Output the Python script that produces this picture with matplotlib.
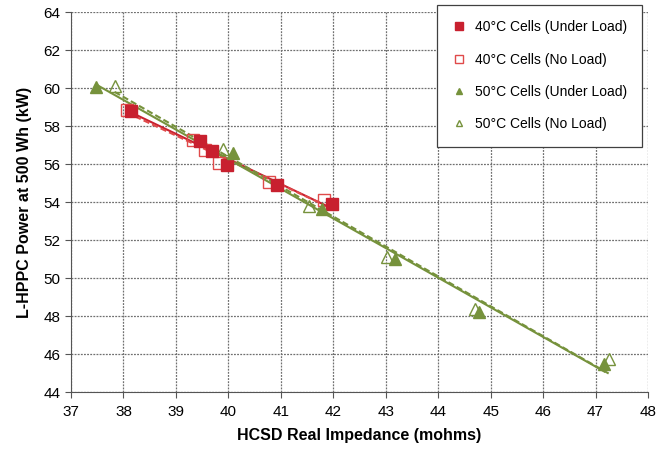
import numpy as np
import matplotlib
matplotlib.use("Agg")
import matplotlib.pyplot as plt

plt.rcParams['font.family'] = ['Liberation Sans', 'DejaVu Sans']

# 40°C under load
r_ul_x = [38.14, 39.46, 39.68, 39.97, 40.92, 41.97]
r_ul_y = [58.80, 57.20, 56.70, 55.95, 54.88, 53.88]
# 40°C no load
r_nl_x = [38.06, 39.33, 39.55, 39.83, 40.78, 41.82]
r_nl_y = [58.85, 57.25, 56.74, 56.07, 55.07, 54.08]
# 50°C under load
g_ul_x = [37.48, 40.09, 41.78, 43.18, 44.78, 47.17]
g_ul_y = [60.04, 56.56, 53.63, 50.98, 48.23, 45.50]
# 50°C no load
g_nl_x = [37.83, 39.90, 41.54, 43.03, 44.70, 47.25]
g_nl_y = [60.10, 56.80, 53.78, 51.10, 48.37, 45.72]

labels = ["40°C Cells (Under Load)", "40°C Cells (No Load)",
          "50°C Cells (Under Load)", "50°C Cells (No Load)"]

red = '#C8202F'
red_l = '#E04A4A'
green = '#76923C'

fig = plt.figure(figsize=(6.7, 4.5), dpi=100)
ax = fig.add_axes([71/670, 1-392/450, (648-71)/670, (392-12)/450])

def trend(x, y, color, ls):
    x = np.asarray(x); y = np.asarray(y)
    p = np.polyfit(x, y, 1)
    xx = np.array([x.min(), x.max()])
    ax.plot(xx, np.polyval(p, xx), color=color, ls=ls, lw=1.5, zorder=2)

trend(r_ul_x, r_ul_y, red, '-')
trend(r_nl_x, r_nl_y, red_l, (0, (3, 1.5)))
trend(g_ul_x, g_ul_y, green, '-')
trend(g_nl_x, g_nl_y, green, (0, (3, 1.5)))

ax.plot(r_nl_x, r_nl_y, ls='none', marker='s', ms=8.5, mfc='none', mec=red_l, mew=1.0, label=labels[1], zorder=3)
ax.plot(r_ul_x, r_ul_y, ls='none', marker='s', ms=8.5, mfc=red, mec=red, label=labels[0], zorder=4)
ax.plot(g_nl_x, g_nl_y, ls='none', marker='^', ms=8, mfc='none', mec=green, mew=1.0, label=labels[3], zorder=3)
ax.plot(g_ul_x, g_ul_y, ls='none', marker='^', ms=8, mfc=green, mec=green, label=labels[2], zorder=4)

ax.set_xlim(37, 48)
ax.set_ylim(44, 64)
ax.set_xticks(range(37, 49))
ax.set_yticks(range(44, 65, 2))
ax.grid(True, color='#707070', ls=(0, (1.5, 1)), lw=0.9)
ax.set_axisbelow(True)
for s in ['top', 'right']:
    ax.spines[s].set_visible(False)
for s in ['left', 'bottom']:
    ax.spines[s].set_color('#555555')
ax.tick_params(labelsize=11, color='#555555', length=4)
ax.tick_params(axis='x', pad=5)
ax.set_xlabel("HCSD Real Impedance (mohms)", fontsize=11.5, fontweight='bold', labelpad=7)
ax.set_ylabel("L-HPPC Power at 500 Wh (kW)", fontsize=11.5, fontweight='bold', labelpad=8)

h, l = ax.get_legend_handles_labels()
hd = dict(zip(l, h))
leg = ax.legend([hd[x] for x in labels], labels, loc='upper right',
                bbox_to_anchor=((642-71)/577, (392-5)/380), fontsize=10, markerscale=0.6,
                handlelength=1.0, handletextpad=0.6, labelspacing=1.32,
                borderpad=1.1, borderaxespad=0, fancybox=False, framealpha=1)
leg.get_frame().set_edgecolor('#404040')
leg.get_frame().set_linewidth(0.9)

fig.savefig('out.png', dpi=100)
